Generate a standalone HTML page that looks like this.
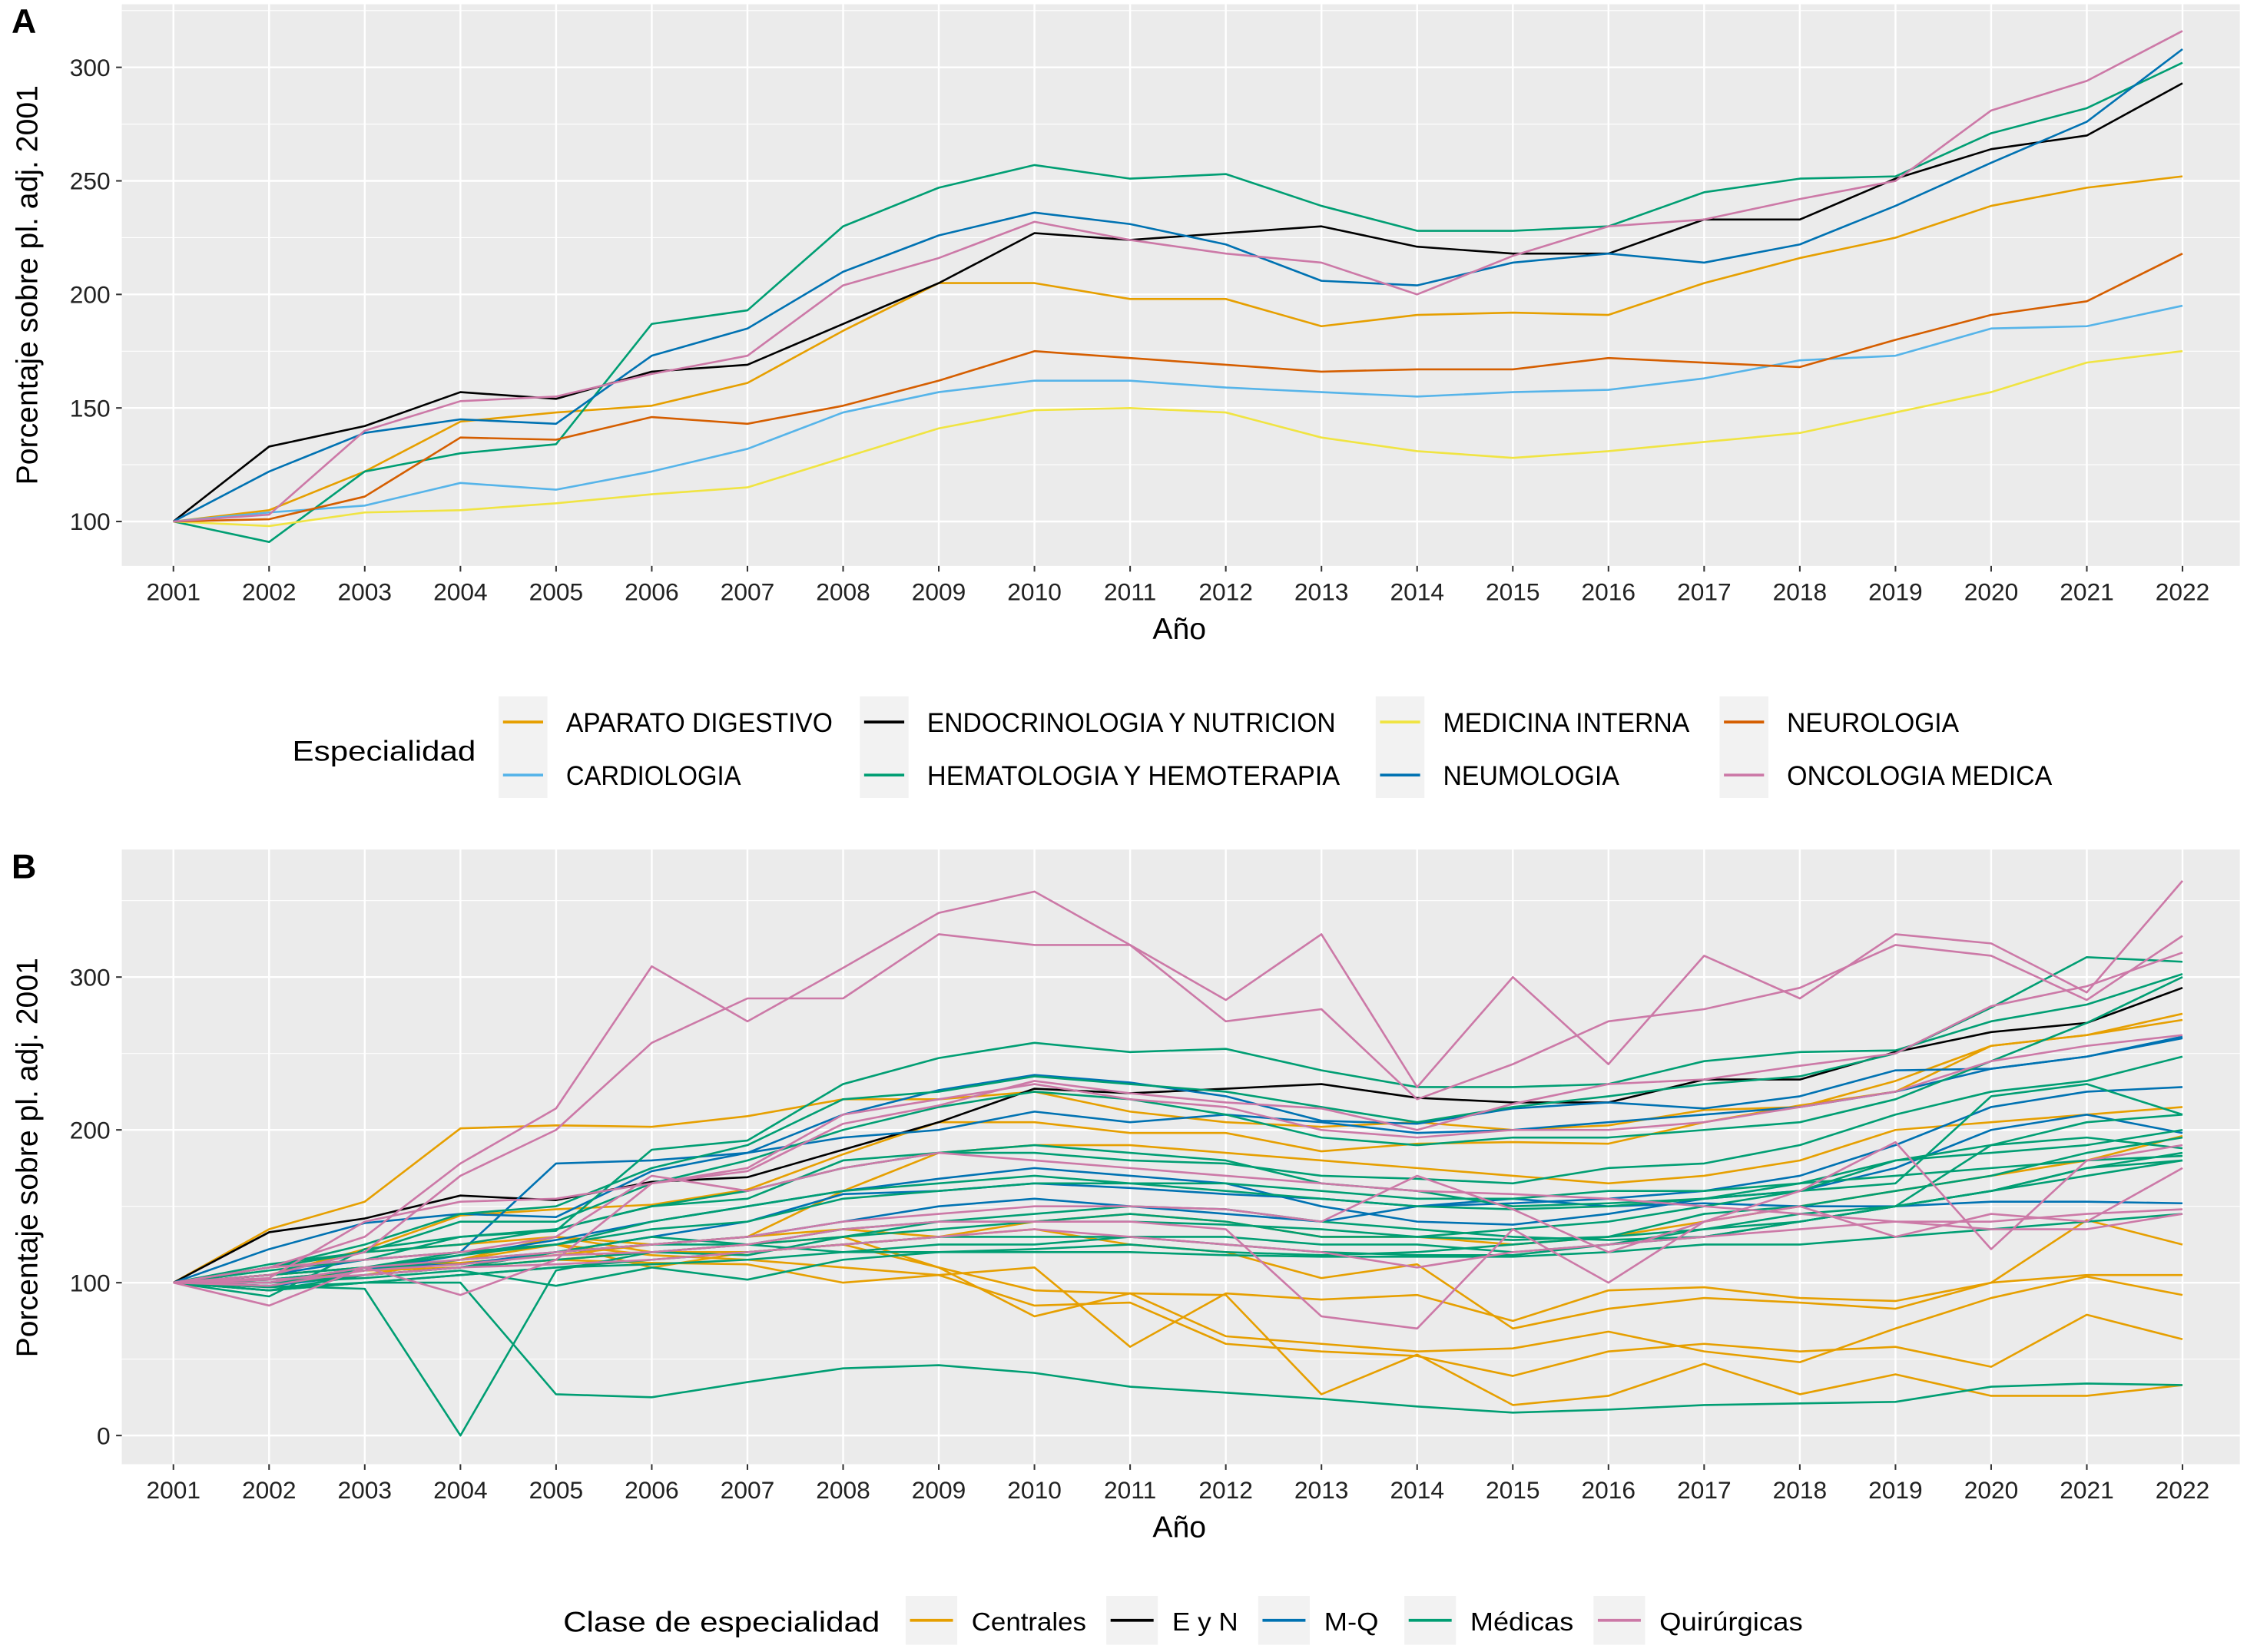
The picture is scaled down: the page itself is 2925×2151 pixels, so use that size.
<!DOCTYPE html>
<html><head><meta charset="utf-8"><style>
html,body{margin:0;padding:0;background:#fff;}
svg{display:block;font-family:"Liberation Sans",sans-serif;}
</style></head><body>
<svg id="chart" width="2925" height="2151" viewBox="0 0 1568 1153.1" xmlns="http://www.w3.org/2000/svg">
<g id="pa"></g>
<g id="pb"></g>
<g id="lg"></g>
</svg>
<script>
const years = [2001,2002,2003,2004,2005,2006,2007,2008,2009,2010,2011,2012,2013,2014,2015,2016,2017,2018,2019,2020,2021,2022];
const aNames = ["APARATO DIGESTIVO","CARDIOLOGIA","ENDOCRINOLOGIA Y NUTRICION","HEMATOLOGIA Y HEMOTERAPIA","MEDICINA INTERNA","NEUMOLOGIA","NEUROLOGIA","ONCOLOGIA MEDICA"];
const aColors = ["#E69F00","#56B4E9","#000000","#009E73","#F0E442","#0072B2","#D55E00","#CC79A7"];
const aDigestivo = [100,105,122,144,148,151,161,184,205,205,198,198,186,191,192,191,205,216,225,239,247,252];
const aCardio = [100,104,107,117,114,122,132,148,157,162,162,159,157,155,157,158,163,171,173,185,186,195];
const aEndo = [100,133,142,157,154,166,169,187,205,227,224,227,230,221,218,218,233,233,251,264,270,293];
const aHemato = [100,91,122,130,134,187,193,230,247,257,251,253,239,228,228,230,245,251,252,271,282,302];
const aMedInt = [100,98,104,105,108,112,115,128,141,149,150,148,137,131,128,131,135,139,148,157,170,175];
const aNeumo = [100,122,139,145,143,173,185,210,226,236,231,222,206,204,214,218,214,222,239,258,276,308];
const aNeuro = [100,101,111,137,136,146,143,151,162,175,172,169,166,167,167,172,170,168,180,191,197,218];
const aOnco = [100,103,140,153,155,165,173,204,216,232,224,218,214,200,217,230,233,242,250,281,294,316];
const aSeries = [aDigestivo,aCardio,aEndo,aHemato,aMedInt,aNeumo,aNeuro,aOnco];
const aTicks = [100,150,200,250,300];

const bClasses = ["Centrales","E y N","M-Q","Médicas","Quirúrgicas"];
const bColors = ["#E69F00","#000000","#0072B2","#009E73","#CC79A7"];
const bTicks = [0,100,200,300];
// class index, values
const bC1 = [100,135,153,201,203,202,209,220,220,225,212,205,202,205,200,203,213,215,232,255,262,272];
const bC2 = [100,110,115,120,125,118,115,110,105,85,87,60,55,52,39,55,60,55,58,45,79,63];
const bC3 = [100,105,110,115,130,120,125,130,110,78,93,92,27,53,20,26,47,27,40,26,26,33];
const bC4 = [100,102,108,110,115,113,112,100,105,110,58,93,89,92,75,95,97,90,88,100,105,105];
const bC5 = [100,100,105,115,125,110,120,125,110,95,93,65,60,55,57,68,55,48,70,90,104,92];
const bC6 = [100,110,120,125,130,125,130,135,130,135,125,120,103,112,70,83,90,87,83,100,141,125];
const bC7 = [100,105,110,113,118,125,130,160,185,190,190,185,180,175,170,165,170,180,200,205,210,215];
const bC8 = [100,100,108,110,115,120,120,125,130,140,145,140,130,130,125,130,140,150,160,170,180,196];
const bC9 = [100,105,122,144,148,151,161,184,205,205,198,198,186,191,192,191,205,216,225,255,262,276];
const bE1 = [100,133,142,157,154,166,169,187,205,227,224,227,230,221,218,218,233,233,251,264,270,293];
const bMQ1 = [100,122,139,145,143,173,185,210,226,236,231,222,206,204,214,218,214,222,239,240,248,261];
const bMQ2 = [100,105,115,120,178,180,185,195,200,212,205,210,205,198,200,205,210,215,225,240,248,260];
const bMQ3 = [100,100,110,112,120,130,140,158,160,165,162,158,155,150,155,150,152,150,150,153,153,152];
const bMQ4 = [100,102,108,118,128,140,150,160,168,175,170,165,150,140,138,145,155,160,175,200,210,198];
const bMQ5 = [100,98,105,110,120,125,130,140,150,155,150,145,140,150,152,155,160,170,190,215,225,228];
const bM1 = [100,91,122,130,134,187,193,230,247,257,251,253,239,228,228,230,245,251,252,271,282,302];
const bM2 = [100,110,125,145,150,175,190,220,225,235,230,225,215,205,215,222,230,235,250,280,313,310];
const bM3 = [100,112,120,140,140,165,180,200,215,225,220,210,195,190,195,195,200,205,220,245,270,300];
const bM4 = [100,108,115,130,135,150,155,180,185,185,180,178,170,168,165,175,178,190,210,225,232,248];
const bM5 = [100,105,110,120,125,135,140,155,160,165,165,160,155,150,148,150,155,160,165,222,230,210];
const bM6 = [100,100,105,110,115,120,125,130,135,140,145,140,130,130,135,140,150,160,180,185,190,200];
const bM7 = [100,102,108,115,120,125,125,135,140,140,140,138,135,130,128,130,135,145,150,190,195,188];
const bM8 = [100,97,100,105,110,115,120,125,130,130,130,130,125,125,120,125,130,140,150,160,175,185];
const bM9 = [100,95,105,110,120,130,125,120,125,125,130,125,120,118,118,125,135,140,150,160,175,180];
const bM10 = [100,100,103,108,98,110,102,115,120,122,125,120,118,120,125,130,145,150,160,170,185,195];
const bM11 = [100,105,110,118,125,140,150,160,165,170,165,165,160,155,155,160,160,165,170,175,180,183];
const bM12 = [100,98,96,0,108,120,118,130,140,145,150,148,140,135,130,128,130,140,150,160,170,180];
const bM13 = [100,95,100,100,27,25,35,44,46,41,32,28,24,19,15,17,20,21,22,32,34,33];
const bM14 = [100,110,120,125,135,150,160,175,185,190,185,180,165,160,150,152,155,165,180,190,205,210];
const bM15 = [100,95,100,105,110,112,115,120,120,120,120,118,117,117,117,120,125,125,130,135,140,145];
const bQ1 = [100,103,140,153,155,165,173,204,216,232,224,218,214,200,217,230,233,242,250,281,294,316];
const bQ2 = [100,110,130,178,214,307,271,306,342,356,321,285,328,228,300,243,314,286,328,322,290,363];
const bQ3 = [100,105,120,170,200,257,286,286,328,321,321,271,279,220,243,271,279,293,321,314,285,327];
const bQ4 = [100,85,110,92,115,165,175,210,220,230,220,215,200,195,200,200,205,215,225,245,255,262];
const bQ5 = [100,110,115,120,130,170,160,175,185,180,175,170,165,160,158,155,150,145,140,135,135,145];
const bQ6 = [100,100,110,115,120,125,130,140,145,150,150,148,140,170,148,120,140,160,192,122,180,190];
const bQ7 = [100,102,105,110,112,115,120,125,130,135,130,125,120,110,120,125,130,135,140,140,145,148];
const bQ8 = [100,98,108,112,118,120,125,135,140,140,140,135,78,70,135,100,140,150,130,145,140,175];
const bSeries = [bC1,bC2,bC3,bC4,bC5,bC6,bC7,bC8,bC9,bE1,bMQ1,bMQ2,bMQ3,bMQ4,bMQ5,bM1,bM2,bM3,bM4,bM5,bM6,bM7,bM8,bM9,bM10,bM11,bM12,bM13,bM14,bM15,bQ1,bQ2,bQ3,bQ4,bQ5,bQ6,bQ7,bQ8];
const bSeriesClass = [0,0,0,0,0,0,0,0,0,1,2,2,2,2,2,3,3,3,3,3,3,3,3,3,3,3,3,3,3,3,4,4,4,4,4,4,4,4];

const NS="http://www.w3.org/2000/svg";
function mk(tag, attrs, parent){const e=document.createElementNS(NS,tag);for(const k in attrs)e.setAttribute(k,attrs[k]);parent.appendChild(e);return e;}
const L=85,R=1563;
const xS = y => 121 + (y-2001)*(1523-121)/21;

function panel(g, top, bottom, yS, ticks, minors, series, colorOf, letter, ytitleY){
  const bg=mk('rect',{x:L,y:top,width:R-L,height:bottom-top,fill:'#EBEBEB'},g);
  
  
  minors.forEach(v=>{const l=mk('line',{x1:L,x2:R,y1:yS(v),y2:yS(v),stroke:'#fff','stroke-width':0.6},g);
    
    });
  ticks.forEach(v=>{const l=mk('line',{x1:L,x2:R,y1:yS(v),y2:yS(v),stroke:'#fff','stroke-width':1.3},g);
    
    
    const tk=mk('line',{x1:L-4,x2:L,y1:yS(v),y2:yS(v),stroke:'#333','stroke-width':1.1},g);
    
    
    const t=mk('text',{x:L-8,y:yS(v)+6,'text-anchor':'end','font-size':17,fill:'#222'},g);t.textContent=v;
    
    });
  years.forEach(yr=>{const x=xS(yr);
    const l=mk('line',{x1:x,x2:x,y1:top,y2:bottom,stroke:'#fff','stroke-width':1.3},g);
    
    
    const tk=mk('line',{x1:x,x2:x,y1:bottom,y2:bottom+4,stroke:'#333','stroke-width':1.1},g);
    
    
    const t=mk('text',{x:x,y:bottom+24,'text-anchor':'middle','font-size':17,fill:'#222'},g);t.textContent=yr;
    
    });
  series.forEach((s,i)=>{
    const p=mk('polyline',{points:s.map((v,j)=>xS(years[j]).toFixed(1)+','+yS(v).toFixed(1)).join(' '),fill:'none',stroke:colorOf(i),'stroke-width':1.4,'stroke-linejoin':'round'},g);
    
    
  });
  const xt=mk('text',{x:823,y:bottom+51,'text-anchor':'middle','font-size':21,fill:'#000'},g);xt.textContent='Año';
  
  
  const yt=mk('text',{x:0,y:0,'text-anchor':'middle','font-size':21,fill:'#000',transform:`translate(26,${ytitleY}) rotate(-90)`},g);yt.textContent='Porcentaje sobre pl. adj. 2001';
  
  
  const lt=mk('text',{x:8,y:top+20,'font-size':24,'font-weight':'bold',fill:'#000'},g);lt.textContent=letter;
  
  
}
const yA = v => 364-(v-100)*1.585;
const yB = v => 1002-v*1.0667;
panel(document.getElementById('pa'),3,395,yA,aTicks,[125,175,225,275,325],aSeries,i=>aColors[i],'A',199);
panel(document.getElementById('pb'),593,1022,yB,bTicks,[50,150,250,350],bSeries,i=>bColors[bSeriesClass[i]],'B',808);

// legends
const lg=document.getElementById('lg');
function txt(x,y,s,fs,len,name){const t=mk('text',{x:x,y:y,'font-size':fs,fill:'#000'},lg);t.textContent=s;
  if(len){t.setAttribute('textLength',len);t.setAttribute('lengthAdjust','spacingAndGlyphs');}
  
  return t;}
txt(204,531,'Especialidad',20,128,'legend-title');
const colX=[348,600,960,1200], labW=[[186,122],[285,288],[172,123],[120,185]];
for(let c=0;c<4;c++){
  const bgk=mk('rect',{x:colX[c],y:486,width:34,height:71,fill:'#F2F2F2'},lg);
  
  
  for(let r=0;r<2;r++){
    const i=c*2+r, yy=504+r*37;
    const k=mk('line',{x1:colX[c]+3,x2:colX[c]+31,y1:yy,y2:yy,stroke:aColors[i],'stroke-width':2},lg);
    
    
    txt(colX[c]+47,yy+7,aNames[i],19,labW[c][r],'legend-label');
  }
}
txt(393,1139,'Clase de especialidad',20,221,'legend-title');
const bX=[632,772,878,980,1112], bW=[80,46,38,72,100];
for(let i=0;i<5;i++){
  const bgk=mk('rect',{x:bX[i],y:1114,width:36,height:34,fill:'#F2F2F2'},lg);
  
  
  const k=mk('line',{x1:bX[i]+3,x2:bX[i]+33,y1:1131,y2:1131,stroke:bColors[i],'stroke-width':2},lg);
  
  
  txt(bX[i]+46,1138,bClasses[i],18,bW[i],'legend-label');
}
</script>
</body></html>
